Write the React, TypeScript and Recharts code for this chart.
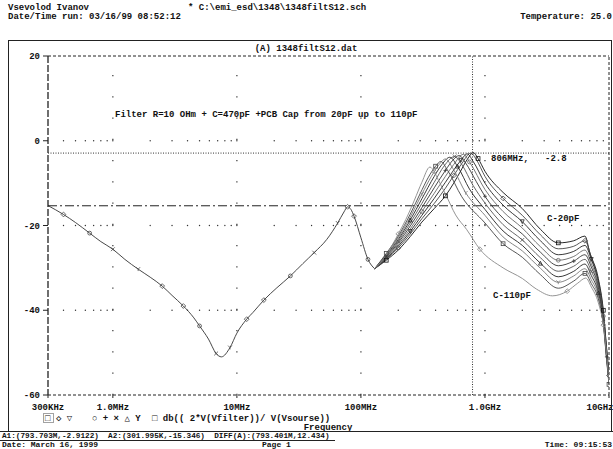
import React from 'react'
import { ComposedChart, Line, XAxis, YAxis, ReferenceLine, ReferenceDot } from 'recharts'

const MONO = '"Liberation Mono", "DejaVu Sans Mono", monospace'

// axes
const freqTicks = [3e5, 1e6, 1e7, 1e8, 1e9, 1e10]
const freqLabels = ['300KHz', '1.0MHz', '10MHz', '100MHz', '1.0GHz', '10GHz']
const dbTicks = [20, 0, -20, -40, -60]

// probe cursors [freq, dB]
const cursorA1 = [793.703e6, -2.9122]
const cursorA2 = [301.995e3, -15.346]

// 300kHz .. 129MHz, all capacitor values overlap here
const common: [number, number][] = [
  [3.0e5, -15.3], [4.0e5, -17.4], [5.0e5, -19.3], [6.5e5, -21.8], [8.0e5, -23.8],
  [1.0e6, -25.6], [1.25e6, -28.0], [1.6e6, -30.3], [2.0e6, -32.2], [2.5e6, -34.3],
  [3.0e6, -36.5], [3.7e6, -39.0], [4.5e6, -41.8], [5.0e6, -43.7], [5.9e6, -46.8],
  [6.8e6, -50.2], [7.5e6, -51.0], [8.8e6, -48.8], [1.0e7, -45.4], [1.2e7, -42.1],
  [1.35e7, -40.5], [1.65e7, -37.6], [2.1e7, -34.7], [2.7e7, -31.9], [3.4e7, -29.0],
  [4.2e7, -26.4], [5.3e7, -23.3], [6.5e7, -19.4], [7.3e7, -16.8], [7.8e7, -15.6],
  [8.3e7, -16.2], [8.8e7, -17.8], [1.0e8, -22.9], [1.14e8, -28.0], [1.29e8, -30.2],
]

// 129MHz .. 10GHz per PCB capacitance
const c20: [number, number][] = [
  [1.29e8, -30.2], [1.6e8, -28.2], [2.0e8, -25.8], [2.5e8, -22.6], [3.1e8, -19.2], [3.9e8, -16.0],
  [4.8e8, -13.0], [5.6e8, -10.0], [6.3e8, -7.4], [7.2e8, -4.4], [8.06e8, -2.8], [8.8e8, -4.2],
  [1.0e9, -7.2], [1.4e9, -12.2], [2.0e9, -16.0], [2.8e9, -20.9], [3.9e9, -24.1], [5.2e9, -23.6],
  [6.4e9, -22.5], [7.0e9, -26.4], [8.2e9, -32.5], [9.0e9, -40.0], [9.6e9, -49.5], [1.0e10, -55.0],
]
const c30: [number, number][] = [
  [1.29e8, -30.2], [1.6e8, -28.0], [2.0e8, -25.3], [2.5e8, -22.0], [3.1e8, -18.4], [3.9e8, -14.8],
  [4.8e8, -11.2], [5.6e8, -8.2], [6.5e8, -5.4], [7.7e8, -2.9], [8.5e8, -4.4], [1.0e9, -8.4],
  [1.4e9, -13.6], [2.0e9, -17.6], [2.8e9, -22.2], [3.9e9, -25.5], [5.2e9, -24.9], [6.4e9, -23.6],
  [7.2e9, -27.5], [8.2e9, -33.0], [9.0e9, -40.5], [9.6e9, -49.8], [1.0e10, -55.4],
]
const c40: [number, number][] = [
  [1.29e8, -30.2], [1.6e8, -27.8], [2.0e8, -24.9], [2.5e8, -21.4], [3.1e8, -17.6], [3.9e8, -13.6],
  [4.8e8, -9.8], [5.6e8, -6.9], [6.4e8, -4.6], [7.2e8, -3.1], [8.0e8, -4.8], [1.0e9, -10.0],
  [1.4e9, -15.2], [2.0e9, -19.1], [2.8e9, -23.6], [3.9e9, -26.9], [5.2e9, -26.1], [6.4e9, -24.7],
  [7.2e9, -28.0], [8.2e9, -33.5], [9.0e9, -41.0], [9.6e9, -50.2], [1.0e10, -55.8],
]
const c50: [number, number][] = [
  [1.29e8, -30.2], [1.6e8, -27.6], [2.0e8, -24.5], [2.5e8, -20.8], [3.1e8, -16.7], [3.9e8, -12.4],
  [4.8e8, -8.4], [5.6e8, -5.6], [6.7e8, -3.2], [7.5e8, -5.0], [1.0e9, -11.5], [1.4e9, -16.7],
  [2.0e9, -20.6], [2.8e9, -25.0], [3.9e9, -28.2], [5.2e9, -27.3], [6.4e9, -25.8], [7.2e9, -29.0],
  [8.2e9, -34.0], [9.0e9, -41.4], [9.6e9, -50.6], [1.0e10, -56.2],
]
const c60: [number, number][] = [
  [1.29e8, -30.2], [1.6e8, -27.4], [2.0e8, -24.1], [2.5e8, -20.1], [3.1e8, -15.8], [3.9e8, -11.1],
  [4.8e8, -7.0], [5.5e8, -4.6], [6.2e8, -3.5], [7.0e8, -5.3], [8.5e8, -9.6], [1.0e9, -13.1],
  [1.4e9, -18.3], [2.0e9, -22.0], [2.8e9, -26.3], [3.9e9, -29.5], [5.2e9, -28.4], [6.4e9, -26.9],
  [7.2e9, -29.8], [8.2e9, -34.6], [9.0e9, -41.8], [9.6e9, -51.0], [1.0e10, -56.5],
]
const c70: [number, number][] = [
  [1.29e8, -30.2], [1.6e8, -27.2], [2.0e8, -23.7], [2.5e8, -19.4], [3.1e8, -14.8], [3.9e8, -9.8],
  [4.7e8, -5.9], [5.7e8, -3.7], [6.5e8, -5.6], [8.0e8, -10.5], [1.0e9, -14.7], [1.4e9, -19.8],
  [2.0e9, -23.4], [2.8e9, -27.6], [3.9e9, -30.8], [5.2e9, -29.6], [6.4e9, -28.0], [7.2e9, -30.8],
  [8.2e9, -35.2], [9.0e9, -42.2], [9.6e9, -51.3], [1.0e10, -56.8],
]
const c80: [number, number][] = [
  [1.29e8, -30.2], [1.6e8, -27.0], [2.0e8, -23.3], [2.5e8, -18.7], [3.1e8, -13.7], [3.9e8, -8.4],
  [4.5e8, -5.6], [5.2e8, -3.9], [6.0e8, -6.0], [7.5e8, -11.4], [1.0e9, -16.2], [1.4e9, -21.3],
  [2.0e9, -24.7], [2.8e9, -28.9], [3.9e9, -32.1], [5.2e9, -30.8], [6.4e9, -29.1], [7.2e9, -31.8],
  [8.2e9, -35.9], [9.0e9, -42.6], [9.6e9, -51.6], [1.0e10, -57.0],
]
const c90: [number, number][] = [
  [1.29e8, -30.2], [1.6e8, -26.8], [2.0e8, -22.9], [2.5e8, -18.0], [3.1e8, -12.6], [3.7e8, -8.4],
  [4.2e8, -5.9], [4.8e8, -4.3], [5.5e8, -6.5], [7.0e8, -12.3], [1.0e9, -17.6], [1.4e9, -22.7],
  [2.0e9, -26.0], [2.8e9, -30.1], [3.9e9, -33.4], [5.2e9, -31.9], [6.4e9, -30.2], [7.2e9, -32.8],
  [8.2e9, -36.6], [9.0e9, -43.0], [9.6e9, -51.9], [1.0e10, -57.2],
]
const c100: [number, number][] = [
  [1.29e8, -30.2], [1.6e8, -26.6], [2.0e8, -22.5], [2.5e8, -17.3], [3.0e8, -12.5], [3.5e8, -8.6],
  [4.0e8, -6.0], [4.4e8, -4.9], [5.0e8, -7.0], [6.5e8, -13.2], [1.0e9, -19.4], [1.4e9, -24.3],
  [2.0e9, -27.5], [2.8e9, -31.6], [3.9e9, -34.8], [5.2e9, -33.1], [6.4e9, -31.3], [7.2e9, -33.7],
  [8.2e9, -37.3], [9.0e9, -43.3], [9.6e9, -52.2], [1.0e10, -57.5],
]
const c110: [number, number][] = [
  [1.29e8, -30.2], [1.6e8, -27.0], [2.0e8, -22.0], [2.3e8, -18.6], [2.7e8, -14.0], [3.1e8, -9.8],
  [3.6e8, -6.2], [3.9e8, -7.3], [4.2e8, -9.2], [4.9e8, -13.1], [5.8e8, -17.5], [7.1e8, -20.9],
  [9.1e8, -25.6], [1.4e9, -30.0], [2.0e9, -32.5], [2.6e9, -35.0], [3.5e9, -36.6], [4.6e9, -35.5],
  [5.6e9, -33.6], [6.5e9, -32.4], [7.2e9, -34.5], [8.2e9, -38.2], [9.0e9, -43.5], [9.6e9, -51.0],
  [1.0e10, -57.0],
]

const traces = [c20, c30, c40, c50, c60, c70, c80, c90, c100, c110]
const traceColors = ['#111', '#444', '#222', '#666', '#333', '#555', '#222', '#777', '#444', '#888']
const markerKinds = ['square', 'diamond', 'tdown', 'circle', 'plus', 'cross', 'tup', 'y', 'square', 'diamond']

// dotted grid: rows at major dB (dots at log minor steps), columns at decades
const minorMult = [1, 2, 3, 4, 5, 6, 7, 8, 9]
const decades = [1e5, 1e6, 1e7, 1e8, 1e9]
const gridRowsDb = [0, -20, -40]
const gridColsF = [1e6, 1e7, 1e8, 1e9]

const toPts = (arr: [number, number][]) => arr.map(([f, db]) => ({ f, db }))

const rowDots = gridRowsDb.flatMap(db =>
  decades.flatMap(d => minorMult.map(m => ({ f: m * d, db }))).filter(p => p.f > 3.1e5 && p.f < 9.9e9))

function Marker({ cx, cy, kind, color }: { cx: number; cy: number; kind: string; color: string }) {
  const s = 1.9
  const p = { fill: 'none', stroke: color, strokeWidth: 0.8 }
  switch (kind) {
    case 'square':
      return <rect x={cx - s} y={cy - s} width={2 * s} height={2 * s} {...p} />
    case 'diamond':
      return <polygon points={`${cx},${cy - s - 0.5} ${cx + s + 0.5},${cy} ${cx},${cy + s + 0.5} ${cx - s - 0.5},${cy}`} {...p} />
    case 'tdown':
      return <polygon points={`${cx - s},${cy - s} ${cx + s},${cy - s} ${cx},${cy + s}`} {...p} />
    case 'tup':
      return <polygon points={`${cx - s},${cy + s} ${cx + s},${cy + s} ${cx},${cy - s}`} {...p} />
    case 'circle':
      return <circle cx={cx} cy={cy} r={s} {...p} />
    case 'plus':
      return <path d={`M${cx - s},${cy}H${cx + s}M${cx},${cy - s}V${cy + s}`} {...p} />
    case 'cross':
      return <path d={`M${cx - s},${cy - s}L${cx + s},${cy + s}M${cx + s},${cy - s}L${cx - s},${cy + s}`} {...p} />
    default:
      return <path d={`M${cx - s},${cy - s}L${cx},${cy}L${cx + s},${cy - s}M${cx},${cy}V${cy + s}`} {...p} />
  }
}

const txt = { fontFamily: MONO, fontSize: 9, fill: '#111', fontWeight: 700 as const, style: { whiteSpace: 'pre' as const } }
const cursorTxt = { ...txt, fontSize: 7.7 }
const foot = { ...txt, fontSize: 8 }

export default function App() {
  return (
    <div style={{ position: 'absolute', left: 0, top: 0, width: 613, height: 449, background: '#fff', overflow: 'hidden' }}>
      <ComposedChart width={613} height={449} margin={{ top: 56, right: 4, bottom: 34, left: 8 }}>
        <XAxis
          dataKey="f" type="number" scale="log" domain={[3e5, 1e10]} ticks={freqTicks} allowDataOverflow
          tickFormatter={(v: number) => freqLabels[freqTicks.indexOf(v)] ?? ''}
          height={20} tickSize={3} tickMargin={6}
          tick={{ fontFamily: MONO, fontSize: 9, fill: '#111', fontWeight: 700 }}
          axisLine={{ stroke: '#222', strokeDasharray: '3 2' }} tickLine={{ stroke: '#222' }}
        />
        <YAxis
          type="number" domain={[-60, 20]} ticks={dbTicks} width={40} allowDataOverflow
          tickSize={5} tickMargin={3}
          tick={{ fontFamily: MONO, fontSize: 9, fill: '#111', fontWeight: 700 }}
          axisLine={{ stroke: '#222', strokeDasharray: '7 2', strokeWidth: 1.3 }} tickLine={{ stroke: '#222' }}
        />
        {/* frame top / right */}
        <ReferenceLine y={20} stroke="#222" strokeDasharray="3 2" />
        <ReferenceLine x={1e10} stroke="#222" strokeDasharray="3 2" />

        {/* sparse dotted grid: one dot per 5 dB down each decade line */}
        {gridColsF.map(f => (
          <ReferenceLine key={`gc${f}`} x={f} stroke="#333" strokeWidth={1.2} strokeDasharray="1.2 20.05" />
        ))}
        {rowDots.map((p, i) => (
          <ReferenceDot key={`gr${i}`} x={p.f} y={p.db} r={0.7} fill="#333" stroke="none" />
        ))}

        {/* cursors */}
        <ReferenceLine x={cursorA1[0]} stroke="#333" strokeDasharray="1 1.5" />
        <ReferenceLine y={cursorA1[1]} stroke="#333" strokeDasharray="1 1.5" />
        <ReferenceLine y={cursorA2[1]} stroke="#222" strokeDasharray="9 3 2 3" />

        <Line data={toPts(common)} dataKey="db" type="monotone" stroke="#333" strokeWidth={0.9}
          isAnimationActive={false}
          dot={(p: any) => (
            <g key={`cm-${p.index}`}>
              {p.index % 2 === 1 ? <Marker cx={p.cx} cy={p.cy} kind={markerKinds[p.index % 10]} color="#444" /> : null}
            </g>
          )} />
        {traces.map((t, i) => (
          <Line key={i} data={toPts(t)} dataKey="db" type="monotone" stroke={traceColors[i]} strokeWidth={0.9}
            isAnimationActive={false}
            dot={(p: any) => (
              <g key={`m${i}-${p.index}`}>
                {p.index % 5 === (i % 4) + 1 ? <Marker cx={p.cx} cy={p.cy} kind={markerKinds[i]} color={traceColors[i]} /> : null}
              </g>
            )} />
        ))}
      </ComposedChart>

      <svg width={613} height={449} style={{ position: 'absolute', left: 0, top: 0, pointerEvents: 'none' }}>
        <text x={8} y={10} {...txt}>Vsevolod Ivanov</text>
        <text x={188} y={10} {...txt}>* C:\emi_esd\1348\1348filtS12.sch</text>
        <text x={8} y={19} {...txt}>Date/Time run: 03/16/99 08:52:12</text>
        <text x={612} y={19} textAnchor="end" {...txt}>Temperature: 25.0</text>
        <text x={306} y={51} textAnchor="middle" {...txt}>(A) 1348filtS12.dat</text>

        <text x={115} y={117} {...txt}>Filter R=10 OHm + C=470pF +PCB Cap from 20pF up to 110pF</text>
        <text x={491} y={161} {...txt}>806MHz,   -2.8</text>
        <text x={547} y={221} {...txt}>C-20pF</text>
        <text x={493} y={298} {...txt}>C-110pF</text>

        <rect x={43.5} y={413.5} width={10} height={9} fill="none" stroke="#444" strokeDasharray="1 1" />
        <text x={45} y={421} {...txt}>□</text>
        <text x={56} y={421} {...txt}>◇ ▽</text>
        <text x={92} y={421} {...txt}>○ + × △ Y</text>
        <text x={152} y={421} {...txt}>□ db(( 2*V(Vfilter))/ V(Vsourse))</text>
        <text x={328} y={429.5} textAnchor="middle" {...txt}>Frequency</text>

        <text x={2} y={437.8} {...cursorTxt}>A1:(793.703M,-2.9122)  A2:(301.995K,-15.346)  DIFF(A):(793.401M,12.434)</text>
        <text x={2} y={447.3} {...foot}>Date: March 16, 1999</text>
        <text x={262} y={447.3} {...foot}>Page 1</text>
        <text x={612} y={447.3} textAnchor="end" {...foot}>Time: 09:15:53</text>

        <rect x={8.5} y={40.5} width={603} height={391} fill="none" stroke="#222" />
        <line x1={0} y1={431.5} x2={613} y2={431.5} stroke="#222" />
        <line x1={0} y1={440.5} x2={335} y2={440.5} stroke="#222" />
      </svg>
    </div>
  )
}
